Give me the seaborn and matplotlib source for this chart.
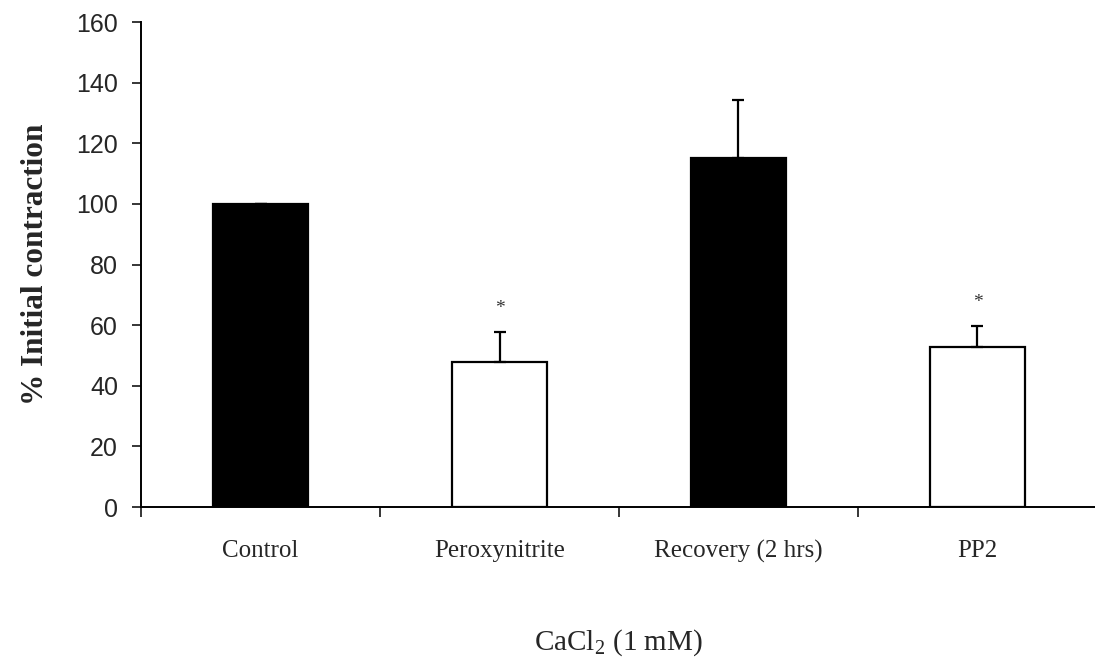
import matplotlib
matplotlib.use("Agg")
import matplotlib.pyplot as plt
import seaborn as sns
import numpy as np
import pandas as pd

# Contraction to CaCl2 (1 mM), expressed as % of the initial response
categories = ["Control", "Peroxynitrite", "Recovery (2 hrs)", "PP2"]
mean_pct = [100.0, 48.0, 115.3, 52.8]
sem_pct = [0.0, 9.6, 19.0, 6.8]
bar_colors = ["black", "white", "black", "white"]
significant = [False, True, False, True]
y_ticks = [0, 20, 40, 60, 80, 100, 120, 140, 160]

df = pd.DataFrame({"condition": categories, "pct": mean_pct})

sns.set_style("white")
serif = "Liberation Serif"
sans = "Liberation Sans"
plt.rcParams["mathtext.fontset"] = "custom"
plt.rcParams["mathtext.rm"] = serif

fig = plt.figure(figsize=(10.95, 6.57), dpi=100)
ax = fig.add_axes([0.1288, 0.2283, 0.873, 0.7382])

sns.barplot(data=df, x="condition", y="pct", hue="condition",
            palette=dict(zip(categories, bar_colors)), legend=False,
            width=0.40, edgecolor="black", linewidth=1.6, ax=ax,
            errorbar=None)

# upper-only SEM error bars
pos = np.arange(len(categories))
lower = np.zeros(len(categories))
ax.errorbar(pos, mean_pct, yerr=[lower, sem_pct], fmt="none",
            ecolor="black", elinewidth=1.6, capsize=4.0, capthick=1.6,
            zorder=1)

for i, (m, s, sig) in enumerate(zip(mean_pct, sem_pct, significant)):
    if sig:
        ax.annotate("*", xy=(i, m + s), xytext=(0, 17),
                    textcoords="offset points", ha="center", va="center",
                    fontsize=14, fontfamily=serif, color="#333333")

ax.set_xlim(-0.5, len(categories) - 0.5)
ax.set_ylim(0, 160)
ax.set_yticks(y_ticks)
ax.set_yticklabels([str(t) for t in y_ticks], fontfamily=sans, fontsize=18)

ax.set_xticks(pos)
ax.set_xticklabels(categories, fontfamily=serif, fontsize=18)
ax.set_xticks(np.arange(-0.5, len(categories), 1.0), minor=True)
ax.tick_params(axis="x", which="major", length=0, pad=24)
ax.tick_params(axis="x", which="minor", length=7, width=1.3,
               direction="out", bottom=True)
ax.tick_params(axis="y", length=6.5, width=1.3, direction="out", left=True,
               pad=10)

ax.set_xlabel(r"CaCl$_\mathrm{2}$ (1 mM)", fontfamily=serif, fontsize=21,
              labelpad=46)
ax.set_ylabel("% Initial contraction", fontfamily=serif, fontsize=22.5,
              fontweight="bold", labelpad=19)

for side in ["top", "right"]:
    ax.spines[side].set_visible(False)
for side in ["left", "bottom"]:
    ax.spines[side].set_color("black")
    ax.spines[side].set_linewidth(1.4)

fig.savefig("out.png", dpi=100, facecolor="white")
